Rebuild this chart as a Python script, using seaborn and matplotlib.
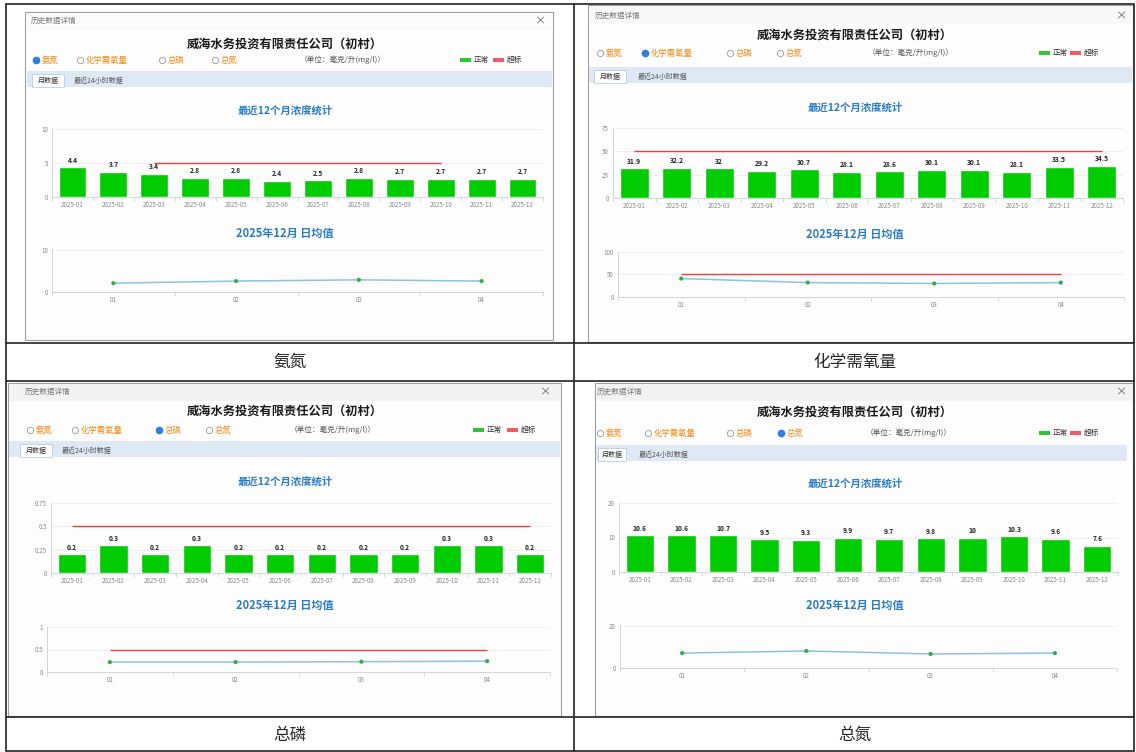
import numpy as np
import pandas as pd
import matplotlib
matplotlib.use("Agg")
import matplotlib.pyplot as plt
import seaborn as sns
from matplotlib.patches import Rectangle
from matplotlib.ticker import FuncFormatter

# ---------------- data ----------------
company = "威海水务投资有限责任公司（初村）"
pollutants = ["氨氮", "化学需氧量", "总磷", "总氮"]
unit_text = "（单位：毫克/升(mg/l)）"
legend_labels = ["正常", "超标"]
tab_labels = ["月数据", "最近24小时数据"]
bar_title = "最近12个月浓度统计"
line_title = "2025年12月 日均值"
window_caption = "历史数据详情"

months = ["2025-01", "2025-02", "2025-03", "2025-04", "2025-05", "2025-06",
          "2025-07", "2025-08", "2025-09", "2025-10", "2025-11", "2025-12"]
days = ["01", "02", "03", "04"]

nh3_monthly = [4.4, 3.7, 3.4, 2.8, 2.8, 2.4, 2.5, 2.8, 2.7, 2.7, 2.7, 2.7]
nh3_daily = [2.1, 2.6, 2.9, 2.6]
nh3_limit = 5
nh3_limit_span = ("2025-03", "2025-10")

cod_monthly = [31.9, 32.2, 32, 29.2, 30.7, 28.1, 28.6, 30.1, 30.1, 28.1, 33.5, 34.5]
cod_daily = [41, 32, 30, 32]
cod_limit = 50

tp_monthly = [0.2, 0.3, 0.2, 0.3, 0.2, 0.2, 0.2, 0.2, 0.2, 0.3, 0.3, 0.2]
tp_daily = [0.22, 0.22, 0.23, 0.24]
tp_limit = 0.5

tn_monthly = [10.6, 10.6, 10.7, 9.5, 9.3, 9.9, 9.7, 9.8, 10, 10.3, 9.6, 7.6]
tn_daily = [7.1, 8.1, 6.7, 7.1]

# ---------------- style ----------------
W, H = 1136, 752
GREEN = "#00cc00"
RED = "#e8403f"
LINE_BLUE = "#8fc1e3"
DOT_GREEN = "#2fae4a"
TITLE_BLUE = "#2b7cc6"
ORANGE = "#f08c1e"
AXIS_C = "#cfd6e0"
TICK_C = "#8a8a8a"

sns.set_theme(style="white")
plt.rcParams["font.family"] = ["Noto Sans CJK SC", "DejaVu Sans"]

fig = plt.figure(figsize=(W / 100, H / 100), dpi=100)
fig.patch.set_facecolor("white")
bg = fig.add_axes([0, 0, 1, 1])
bg.set_xlim(0, W)
bg.set_ylim(H, 0)
bg.axis("off")
bg.set_zorder(0)


def px_axes(x0, y0, x1, y1):
    ax = fig.add_axes([x0 / W, 1 - y1 / H, (x1 - x0) / W, (y1 - y0) / H])
    ax.patch.set_alpha(0)
    ax.set_zorder(2)
    return ax


def fmt(v, _=None):
    return f"{v:g}"


def style_axis(ax, n, yticks, ylim):
    ax.set_xlim(-0.5, n - 0.5)
    ax.set_ylim(*ylim)
    ax.set_yticks(yticks)
    ax.yaxis.set_major_formatter(FuncFormatter(fmt))
    ax.set_xlabel("")
    ax.set_ylabel("")
    for s in ["top", "right"]:
        ax.spines[s].set_visible(False)
    for s in ["left", "bottom"]:
        ax.spines[s].set_color(AXIS_C)
        ax.spines[s].set_linewidth(0.7)
    ax.yaxis.grid(True, color="#ececec", lw=0.6)
    ax.set_axisbelow(True)
    ax.set_xticks(np.arange(-0.5, n, 1), minor=True)
    ax.tick_params(axis="both", which="major", labelsize=4.5, colors=TICK_C,
                   length=0, pad=3)
    ax.tick_params(axis="x", which="minor", bottom=True, length=3,
                   color=AXIS_C, width=0.6)


def draw_panel(cfg, selected, monthly, daily, bar_limit, bar_span,
               line_limit):
    x0, y0, x1, y1 = cfg["frame"]
    bg.add_patch(Rectangle((x0, y0), x1 - x0, y1 - y0, fc="#fdfdfd",
                           ec="#a0a0a0", lw=0.8, zorder=1))
    bg.add_patch(Rectangle((x0 + 0.5, y0 + 0.5), x1 - x0 - 1, 17,
                           fc=cfg["bar_c"], ec="none", zorder=1))
    cx, cy = cfg["cap"]
    bg.text(cx, cy, window_caption, fontsize=5.5, color="#7a7a7a",
            va="center", zorder=3)
    bg.text(cfg["close"], cy, "×", fontsize=8, color="#666",
            va="center", ha="center", zorder=3)
    tx, ty = cfg["title"]
    bg.text(tx, ty, company, fontsize=8.8, fontweight="bold",
            ha="center", va="center", color="#1a1a1a", zorder=3)
    ry = cfg["radio_y"]
    for i, (name, rx) in enumerate(zip(pollutants, cfg["radio"])):
        if i == selected:
            bg.plot(rx, ry, "o", ms=4.5, color="#2f7fe0", mec="#2f7fe0",
                    zorder=3)
        else:
            bg.plot(rx, ry, "o", ms=4.5, mfc="white", mec="#9a9a9a",
                    mew=0.6, zorder=3)
        bg.text(rx + 6, ry, name, fontsize=6, color=ORANGE, va="center",
                zorder=3)
    bg.text(cfg["unit"], ry, unit_text, fontsize=5.5, color="#555",
            va="center", zorder=3)
    gx, rx_ = cfg["legend"]
    bg.add_patch(Rectangle((gx, ry - 2), 11, 4, fc="#33c433", ec="none",
                           zorder=3))
    bg.text(gx + 14, ry, legend_labels[0], fontsize=5.5, color="#333",
            va="center", zorder=3)
    bg.add_patch(Rectangle((rx_, ry - 2), 11, 4, fc="#f05a6a", ec="none",
                           zorder=3))
    bg.text(rx_ + 14, ry, legend_labels[1], fontsize=5.5, color="#333",
            va="center", zorder=3)
    tb0, tb1 = cfg["tabbar_y"]
    bx0, bx1 = cfg["tabbar_x"]
    bg.add_patch(Rectangle((bx0, tb0), bx1 - bx0, tb1 - tb0, fc="#dfe9f6",
                           ec="none", zorder=2))
    t1a, t1b = cfg["tab1"]
    bg.add_patch(Rectangle((t1a, tb0 + 3), t1b - t1a, tb1 - tb0 - 3,
                           fc="white", ec="#b9cde6", lw=0.6, zorder=2))
    bg.text((t1a + t1b) / 2, (tb0 + tb1) / 2 + 1.5, tab_labels[0],
            fontsize=5, color="#333", ha="center", va="center", zorder=3)
    t2a, t2b = cfg["tab2"]
    bg.text((t2a + t2b) / 2, (tb0 + tb1) / 2 + 1.5, tab_labels[1],
            fontsize=5, color="#555", ha="center", va="center", zorder=3)
    bg.text(tx, cfg["bar_title_y"], bar_title, fontsize=7.5,
            fontweight="bold", color=TITLE_BLUE, ha="center", va="center",
            zorder=3)
    bg.text(tx, cfg["line_title_y"], line_title, fontsize=8,
            fontweight="bold", color=TITLE_BLUE, ha="center", va="center",
            zorder=3)

    # --- bar chart ---
    ax = px_axes(*cfg["bar_ax"])
    dfm = pd.DataFrame({"month": months, "value": monthly})
    sns.barplot(data=dfm, x="month", y="value", color=GREEN, saturation=1,
                width=0.68, ax=ax)
    style_axis(ax, len(months), cfg["bar_yticks"], cfg["bar_ylim"])
    ax.bar_label(ax.containers[0], labels=[fmt(v) for v in monthly],
                 padding=2.5, fontsize=4.8, fontweight="bold", color="#222")
    if bar_limit is not None:
        a, b = bar_span
        ax.hlines(bar_limit, months.index(a), months.index(b), color=RED,
                  lw=1, zorder=3)

    # --- line chart ---
    ax2 = px_axes(*cfg["line_ax"])
    dfd = pd.DataFrame({"day": days, "value": daily})
    sns.lineplot(data=dfd, x="day", y="value", color=LINE_BLUE, lw=1.1,
                 sort=False, ax=ax2)
    sns.scatterplot(data=dfd, x="day", y="value", color=DOT_GREEN, s=9,
                    edgecolor="none", zorder=4, ax=ax2)
    style_axis(ax2, len(days), cfg["line_yticks"], cfg["line_ylim"])
    if line_limit is not None:
        ax2.hlines(line_limit, 0, len(days) - 1, color=RED, lw=1, zorder=3)


panels = [
    dict(frame=(25, 12, 553, 340), cap=(31, 21), close=540, title=(285, 44),
         bar_c="#fbfbfb",
         radio_y=60, radio=[36, 80, 162, 215], unit=300, legend=(460, 493),
         tabbar_y=(71, 87), tabbar_x=(27, 552), tab1=(32, 64), tab2=(72, 126),
         bar_title_y=111, line_title_y=233,
         bar_ax=(52, 129, 543, 197), bar_yticks=[0, 5, 10], bar_ylim=(0, 10),
         line_ax=(52, 250, 543, 292), line_yticks=[0, 10], line_ylim=(0, 10)),
    dict(frame=(588, 5, 1133, 342), cap=(595, 16), close=1121,
         title=(855, 35), bar_c="#f8f8f8",
         radio_y=53, radio=[600, 645, 730, 780], unit=868,
         legend=(1039, 1070), tabbar_y=(67, 83), tabbar_x=(589, 1132),
         tab1=(594, 626), tab2=(632, 694),
         bar_title_y=108, line_title_y=234,
         bar_ax=(613, 128, 1123, 198), bar_yticks=[0, 25, 50, 75],
         bar_ylim=(0, 75),
         line_ax=(618, 252, 1124, 297), line_yticks=[0, 50, 100],
         line_ylim=(0, 100)),
    dict(frame=(8, 383, 561, 716), cap=(25, 392), close=545,
         title=(285, 411), bar_c="#f2f2f2",
         radio_y=430, radio=[30, 75, 159, 209], unit=290,
         legend=(473, 507), tabbar_y=(441, 457), tabbar_x=(9, 560),
         tab1=(20, 52), tab2=(60, 114),
         bar_title_y=482, line_title_y=605,
         bar_ax=(51, 503, 551, 573), bar_yticks=[0, 0.25, 0.5, 0.75],
         bar_ylim=(0, 0.75),
         line_ax=(47, 627, 550, 672), line_yticks=[0, 0.5, 1],
         line_ylim=(0, 1)),
    dict(frame=(595, 383, 1133, 716), cap=(597, 392), close=1121,
         title=(855, 412), bar_c="#f2f2f2",
         radio_y=433, radio=[600, 648, 730, 781], unit=866,
         legend=(1039, 1070), tabbar_y=(445, 461), tabbar_x=(596, 1127),
         tab1=(598, 626), tab2=(632, 695),
         bar_title_y=484, line_title_y=605,
         bar_ax=(619, 503, 1118, 572), bar_yticks=[0, 10, 20],
         bar_ylim=(0, 20),
         line_ax=(620, 626, 1117, 668), line_yticks=[0, 20],
         line_ylim=(0, 20)),
]

draw_panel(panels[0], 0, nh3_monthly, nh3_daily, nh3_limit, nh3_limit_span,
           None)
draw_panel(panels[1], 1, cod_monthly, cod_daily, cod_limit,
           (months[0], months[-1]), cod_limit)
draw_panel(panels[2], 2, tp_monthly, tp_daily, tp_limit,
           (months[0], months[-1]), tp_limit)
draw_panel(panels[3], 3, tn_monthly, tn_daily, None, None, None)

# ---------------- table frame & captions ----------------
LC = "#222222"
bg.add_patch(Rectangle((6, 4), 1128, 747, fc="none", ec=LC, lw=1.2,
                       zorder=5))
bg.plot([574, 574], [4, 751], color=LC, lw=1.2, zorder=5)
for yy in [343, 381, 717]:
    bg.plot([6, 1134], [yy, yy], color=LC, lw=1.2, zorder=5)

bg.text(290, 362, pollutants[0], fontsize=12, ha="center", va="center",
        zorder=5)
bg.text(855, 362, pollutants[1], fontsize=12, ha="center", va="center",
        zorder=5)
bg.text(290, 735, pollutants[2], fontsize=12, ha="center", va="center",
        zorder=5)
bg.text(855, 735, pollutants[3], fontsize=12, ha="center", va="center",
        zorder=5)

fig.savefig("out.png", dpi=100, facecolor="white")
